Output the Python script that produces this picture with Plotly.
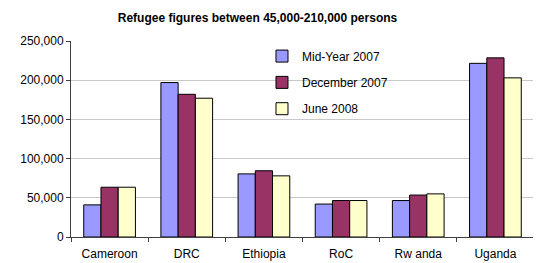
import plotly.graph_objects as go

categories = ["Cameroon", "DRC", "Ethiopia", "RoC", "Rw anda", "Uganda"]
mid_2007 = [41000, 197000, 80500, 42000, 46500, 221500]
dec_2007 = [63500, 182000, 84500, 46500, 53500, 228500]
jun_2008 = [63500, 177000, 78000, 46500, 55000, 203000]
series_names = ["Mid-Year 2007", "December 2007", "June 2008"]
colors = ["#9999FF", "#993366", "#FFFFCC"]
y_ticks = [0, 50000, 100000, 150000, 200000, 250000]
y_tick_text = ["0", "50,000", "100,000", "150,000", "200,000", "250,000"]

# page body has an 8px default margin, so the figure is offset by 8px
OFF = 8
W, H = 541 - OFF, 263 - OFF

fig = go.Figure()
for i, (name, vals, col) in enumerate(zip(series_names, [mid_2007, dec_2007, jun_2008], colors)):
    fig.add_trace(go.Bar(
        x=categories, y=vals, name=name, legendgroup=f"g{i}",
        marker=dict(color=col, line=dict(color="#000000", width=1)),
    ))

fig.update_layout(
    width=W, height=H,
    margin=dict(l=71 - OFF, r=7, t=41 - OFF, b=26, pad=0, autoexpand=False),
    paper_bgcolor="white", plot_bgcolor="white",
    barmode="group", bargap=0.33, bargroupgap=0,
    font=dict(family="Liberation Sans, Arial, sans-serif", size=12, color="#000000"),
    title=dict(text="<b>Refugee figures between 45,000-210,000 persons</b>",
               x=(257.5 - OFF) / W, xanchor="center", y=1 - (18 - OFF) / H, yanchor="middle",
               font=dict(size=12)),
    showlegend=True,
    legend=dict(x=0.4125, y=0.997, xanchor="left", yanchor="top",
                bgcolor="rgba(0,0,0,0)", tracegroupgap=7.3,
                font=dict(size=12), itemwidth=30),
    xaxis=dict(showline=True, linecolor="#404040", linewidth=1, automargin=False,
               ticks="outside", tickson="boundaries", ticklen=4, tickcolor="#404040",
               ticklabelstandoff=6, showgrid=False),
    yaxis=dict(range=[0, 250000], tickvals=y_ticks, ticktext=y_tick_text,
               showline=True, linecolor="#404040", linewidth=1, automargin=False,
               ticks="outside", ticklen=4, tickcolor="#404040",
               showgrid=True, gridcolor="#C8C8C8", gridwidth=1, zeroline=False),
)

fig.write_html("out.html")
